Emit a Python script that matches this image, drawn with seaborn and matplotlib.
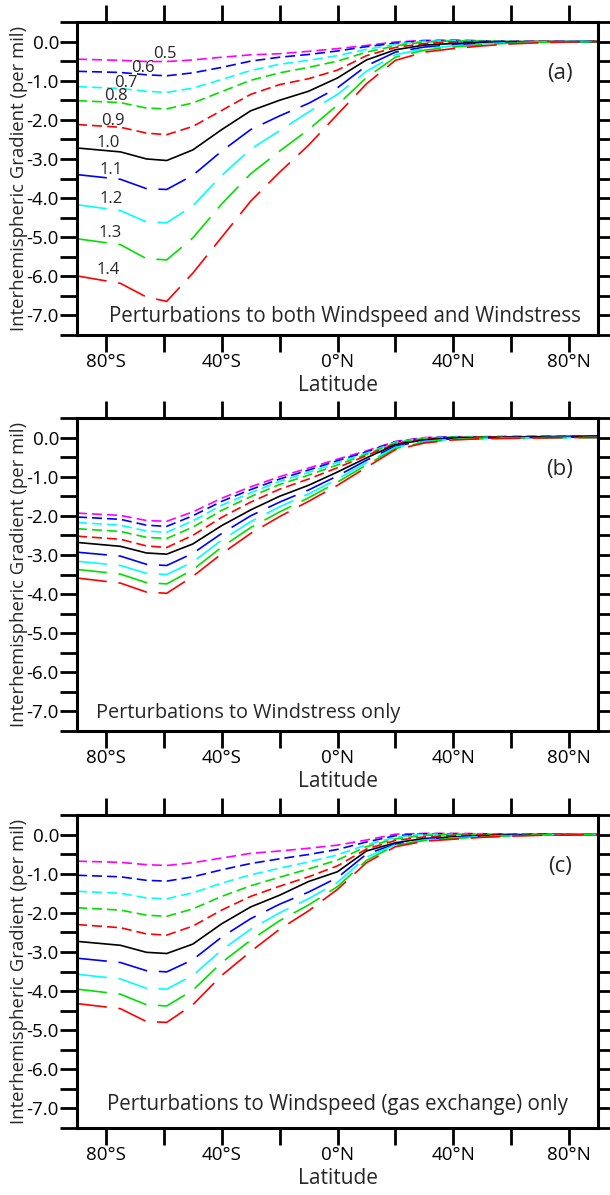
import numpy as np
import pandas as pd
import matplotlib
matplotlib.use("Agg")
import matplotlib.pyplot as plt
from matplotlib.ticker import FixedLocator
import seaborn as sns

# ---------------- data ----------------
LAT = [-90, -75, -66, -59, -50, -40, -30, -20, -10, 0, 10, 20, 30, 40, 50, 60, 70, 80, 90]
FACTORS = ["0.5", "0.6", "0.7", "0.8", "0.9", "1.0", "1.1", "1.2", "1.3", "1.4"]
X_TICK_LABELS = ["80°S", "40°S", "0°N", "40°N", "80°N"]
Y_TICK_LABELS = ["0.0", "-1.0", "-2.0", "-3.0", "-4.0", "-5.0", "-6.0", "-7.0"]

# Panel (a): both windspeed and windstress
A_05 = [-0.45, -0.48, -0.51, -0.51, -0.47, -0.40, -0.34, -0.31, -0.25, -0.18, -0.10, -0.01, 0.03, 0.03, 0.02, 0.01, 0.0, 0.0, 0.0]
A_06 = [-0.76, -0.79, -0.85, -0.875, -0.80, -0.66, -0.50, -0.40, -0.33, -0.24, -0.13, -0.04, 0.02, 0.03, 0.02, 0.01, 0.0, 0.0, 0.0]
A_07 = [-1.15, -1.20, -1.27, -1.30, -1.19, -0.97, -0.74, -0.58, -0.48, -0.36, -0.20, -0.07, 0.01, 0.02, 0.01, 0.01, 0.0, 0.0, 0.0]
A_08 = [-1.51, -1.56, -1.70, -1.72, -1.57, -1.28, -0.99, -0.80, -0.66, -0.50, -0.27, -0.11, -0.01, 0.01, 0.01, 0.0, 0.0, 0.0, 0.0]
A_09 = [-2.12, -2.19, -2.34, -2.38, -2.17, -1.76, -1.35, -1.10, -0.95, -0.73, -0.36, -0.15, -0.05, -0.01, 0.0, 0.0, 0.0, 0.0, 0.0]
A_10 = [-2.72, -2.82, -3.00, -3.04, -2.77, -2.25, -1.77, -1.50, -1.27, -0.93, -0.47, -0.21, -0.09, -0.05, -0.02, -0.01, 0.0, 0.0, 0.0]
A_11 = [-3.40, -3.52, -3.76, -3.78, -3.42, -2.80, -2.25, -1.90, -1.58, -1.18, -0.62, -0.27, -0.14, -0.08, -0.04, -0.02, -0.01, 0.0, 0.0]
A_12 = [-4.17, -4.32, -4.61, -4.63, -4.20, -3.42, -2.75, -2.28, -1.80, -1.35, -0.76, -0.34, -0.18, -0.11, -0.06, -0.03, -0.01, 0.0, 0.0]
A_13 = [-5.04, -5.19, -5.55, -5.58, -5.02, -4.15, -3.38, -2.80, -2.25, -1.62, -0.92, -0.40, -0.22, -0.14, -0.08, -0.04, -0.02, -0.01, 0.0]
A_14 = [-5.99, -6.18, -6.53, -6.64, -5.92, -5.00, -4.08, -3.34, -2.65, -1.86, -1.08, -0.48, -0.27, -0.18, -0.11, -0.06, -0.03, -0.01, 0.0]

# Panel (b): windstress only
B_05 = [-1.93, -1.99, -2.12, -2.14, -1.90, -1.55, -1.26, -1.00, -0.78, -0.55, -0.34, -0.10, 0.0, 0.02, 0.02, 0.03, 0.03, 0.03, 0.03]
B_06 = [-2.03, -2.09, -2.24, -2.27, -2.00, -1.63, -1.33, -1.06, -0.83, -0.59, -0.37, -0.11, -0.01, 0.02, 0.02, 0.02, 0.03, 0.03, 0.03]
B_07 = [-2.17, -2.24, -2.39, -2.42, -2.13, -1.73, -1.41, -1.12, -0.89, -0.64, -0.40, -0.12, -0.01, 0.01, 0.02, 0.02, 0.02, 0.03, 0.03]
B_08 = [-2.33, -2.40, -2.55, -2.58, -2.29, -1.86, -1.51, -1.20, -0.96, -0.70, -0.43, -0.14, -0.02, 0.01, 0.01, 0.02, 0.02, 0.02, 0.03]
B_09 = [-2.52, -2.60, -2.77, -2.81, -2.50, -2.04, -1.65, -1.32, -1.06, -0.77, -0.46, -0.16, -0.04, 0.0, 0.01, 0.01, 0.02, 0.02, 0.02]
B_10 = [-2.68, -2.78, -2.95, -2.98, -2.72, -2.25, -1.85, -1.50, -1.22, -0.88, -0.52, -0.18, -0.06, -0.01, 0.0, 0.01, 0.02, 0.03, 0.04]
B_11 = [-2.93, -3.03, -3.24, -3.27, -2.96, -2.45, -2.00, -1.65, -1.34, -0.98, -0.58, -0.22, -0.08, -0.03, -0.01, 0.0, 0.0, 0.01, 0.01]
B_12 = [-3.16, -3.27, -3.47, -3.50, -3.18, -2.62, -2.15, -1.77, -1.44, -1.06, -0.64, -0.25, -0.10, -0.04, -0.02, -0.01, 0.0, 0.0, 0.0]
B_13 = [-3.37, -3.49, -3.71, -3.74, -3.38, -2.80, -2.30, -1.90, -1.54, -1.14, -0.70, -0.28, -0.12, -0.05, -0.03, -0.01, -0.01, 0.0, 0.0]
B_14 = [-3.59, -3.72, -3.95, -3.98, -3.55, -2.97, -2.45, -2.02, -1.63, -1.22, -0.76, -0.31, -0.14, -0.06, -0.03, -0.02, -0.01, 0.0, 0.0]

# Panel (c): windspeed (gas exchange) only
C_05 = [-0.68, -0.71, -0.77, -0.79, -0.72, -0.60, -0.48, -0.42, -0.35, -0.27, -0.14, 0.01, 0.03, 0.03, 0.02, 0.01, 0.01, 0.0, 0.0]
C_06 = [-1.04, -1.08, -1.17, -1.19, -1.08, -0.90, -0.74, -0.62, -0.51, -0.38, -0.19, -0.03, 0.02, 0.02, 0.02, 0.01, 0.01, 0.0, 0.0]
C_07 = [-1.45, -1.50, -1.62, -1.64, -1.49, -1.24, -1.03, -0.86, -0.70, -0.52, -0.26, -0.07, 0.01, 0.01, 0.01, 0.01, 0.0, 0.0, 0.0]
C_08 = [-1.87, -1.93, -2.06, -2.09, -1.90, -1.58, -1.31, -1.09, -0.88, -0.65, -0.31, -0.11, -0.02, 0.0, 0.0, 0.0, 0.0, 0.0, 0.0]
C_09 = [-2.30, -2.38, -2.54, -2.57, -2.34, -1.93, -1.58, -1.32, -1.08, -0.80, -0.37, -0.15, -0.06, -0.02, -0.01, 0.0, 0.0, 0.0, 0.0]
C_10 = [-2.73, -2.83, -3.01, -3.04, -2.80, -2.28, -1.85, -1.55, -1.20, -0.95, -0.42, -0.21, -0.10, -0.06, -0.03, -0.01, 0.0, 0.0, 0.0]
C_11 = [-3.16, -3.27, -3.48, -3.51, -3.20, -2.62, -2.15, -1.78, -1.47, -1.10, -0.50, -0.24, -0.12, -0.07, -0.04, -0.02, -0.01, 0.0, 0.0]
C_12 = [-3.57, -3.69, -3.93, -3.95, -3.60, -2.95, -2.42, -2.00, -1.64, -1.22, -0.58, -0.26, -0.14, -0.09, -0.05, -0.03, -0.01, 0.0, 0.0]
C_13 = [-3.95, -4.08, -4.35, -4.38, -3.98, -3.27, -2.70, -2.20, -1.80, -1.33, -0.66, -0.28, -0.15, -0.10, -0.06, -0.03, -0.01, 0.0, 0.0]
C_14 = [-4.32, -4.45, -4.78, -4.80, -4.35, -3.60, -2.99, -2.42, -1.95, -1.40, -0.72, -0.31, -0.17, -0.12, -0.07, -0.04, -0.02, -0.01, 0.0]

PANEL_TAGS = ["(a)", "(b)", "(c)"]
PANEL_TITLES = ["Perturbations to both Windspeed and Windstress",
                "Perturbations to Windstress only",
                "Perturbations to Windspeed (gas exchange) only"]

PANEL_SERIES = [
    [A_05, A_06, A_07, A_08, A_09, A_10, A_11, A_12, A_13, A_14],
    [B_05, B_06, B_07, B_08, B_09, B_10, B_11, B_12, B_13, B_14],
    [C_05, C_06, C_07, C_08, C_09, C_10, C_11, C_12, C_13, C_14],
]

# ---------------- style ----------------
COLORS = ["#ff00ff", "#0000ff", "#00ffff", "#00e000", "#ff0000",
          "#000000", "#0000ff", "#00ffff", "#00e000", "#ff0000"]
SHORT = (0, (6, 3))
LONG = (0, (18, 7))
STYLES = [SHORT] * 5 + ["-"] + [LONG] * 4

sns.set_style("ticks")
plt.rcParams["font.family"] = ["Open Sans", "DejaVu Sans"]
plt.rcParams["axes.unicode_minus"] = False

W, H = 610, 1195
fig = plt.figure(figsize=(W / 100, H / 100), dpi=100)

left_px, right_px = 77, 598
tops = [22, 418, 815]
height_px = 313

# label annotation positions for panel (a)  (lat, value)
LABEL_POS = [(-59.6, -0.31), (-67.3, -0.67), (-73.0, -1.05), (-76.6, -1.40), (-77.7, -2.02),
             (-79.1, -2.60), (-78.3, -3.27), (-78.3, -4.02), (-78.5, -4.89), (-79.1, -5.85)]

TITLE_X = [0.515, 0.036, 0.50]
TITLE_HA = ["center", "left", "center"]
TITLE_Y = [0.058, 0.056, 0.075]
TITLE_FS = [14.8, 14.3, 14.8]

for p in range(3):
    ax = fig.add_axes([left_px / W, 1 - (tops[p] + height_px) / H,
                       (right_px - left_px) / W, height_px / H])
    rows = []
    for f, vals in zip(FACTORS, PANEL_SERIES[p]):
        for la, v in zip(LAT, vals):
            rows.append({"lat": la, "grad": v, "factor": f})
    df = pd.DataFrame(rows)
    for i, f in enumerate(FACTORS):
        sub = df[df["factor"] == f]
        sns.lineplot(data=sub, x="lat", y="grad", ax=ax, color=COLORS[i],
                     linestyle=STYLES[i], linewidth=1.2, estimator=None, sort=False)
    ax.set_xlim(-90, 90)
    ax.set_ylim(-7.5, 0.5)
    ax.xaxis.set_major_locator(FixedLocator([-80, -40, 0, 40, 80]))
    ax.xaxis.set_minor_locator(FixedLocator([-60, -20, 20, 60]))
    ax.set_xticklabels(X_TICK_LABELS)
    ax.yaxis.set_major_locator(FixedLocator([0, -1, -2, -3, -4, -5, -6, -7]))
    ax.yaxis.set_minor_locator(FixedLocator([0.5, -0.5, -1.5, -2.5, -3.5, -4.5, -5.5, -6.5, -7.5]))
    ax.set_yticklabels(Y_TICK_LABELS)
    ax.tick_params(which="both", direction="out", length=12, width=2.0,
                   top=True, right=True, bottom=True, left=True,
                   labelsize=13.5, colors="black", pad=1)
    for s in ax.spines.values():
        s.set_linewidth(2.2)
        s.set_color("black")
    ax.set_xlabel("Latitude", fontsize=15, labelpad=3)
    ax.set_ylabel("Interhemispheric Gradient (per mil)", fontsize=13.3)
    ax.yaxis.set_label_coords(-0.094, 0.5)
    ax.text(0.927, 0.834, PANEL_TAGS[p], transform=ax.transAxes, fontsize=16,
            ha="center", va="center")
    ax.text(TITLE_X[p], TITLE_Y[p], PANEL_TITLES[p], transform=ax.transAxes,
            fontsize=TITLE_FS[p], ha=TITLE_HA[p], va="center")
    if ax.get_legend() is not None:
        ax.get_legend().remove()
    if p == 0:
        for f, (lx, ly) in zip(FACTORS, LABEL_POS):
            ax.text(lx, ly, f, fontsize=12, ha="center", va="center")

fig.savefig("out.png", dpi=100)
